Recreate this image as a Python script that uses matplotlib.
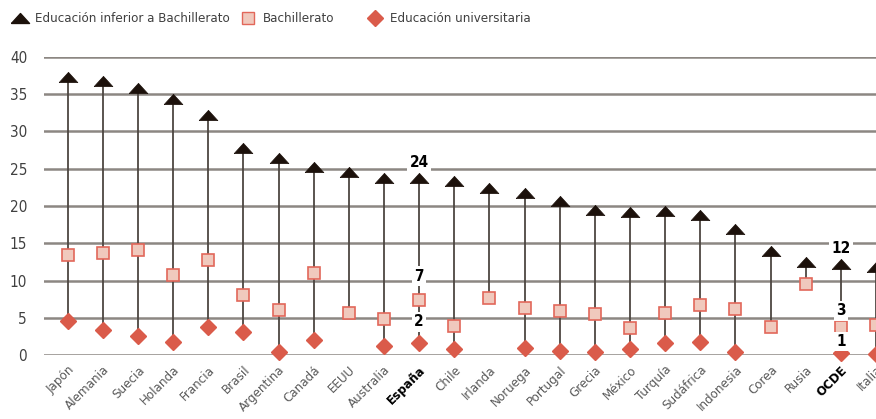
import numpy as np
import matplotlib
matplotlib.use("Agg")
import matplotlib.pyplot as plt
from matplotlib.lines import Line2D

# ---------------- data ----------------
countries = ["Japón", "Alemania", "Suecia", "Holanda", "Francia", "Brasil",
             "Argentina", "Canadá", "EEUU", "Australia", "España", "Chile",
             "Irlanda", "Noruega", "Portugal", "Grecia", "México", "Turquía",
             "Sudáfrica", "Indonesia", "Corea", "Rusia", "OCDE", "Italia"]
inferior = [37.3, 36.8, 35.8, 34.3, 32.2, 27.8, 26.5, 25.3, 24.5, 23.8, 23.8, 23.3,
            22.4, 21.7, 20.7, 19.4, 19.2, 19.3, 18.8, 16.9, 13.9, 12.5, 12.2, 11.8]
bachillerato = [13.4, 13.7, 14.1, 10.8, 12.7, 8.0, 6.0, 11.0, 5.7, 4.9, 7.4, 3.9,
                7.7, 6.3, 5.9, 5.5, 3.6, 5.6, 6.7, 6.2, 3.75, 9.5, 3.7, 4.0]
universitaria = [4.6, 3.4, 2.55, 1.7, 3.7, 3.1, 0.45, 2.0, np.nan, 1.25, 1.65, 0.75,
                 np.nan, 1.0, 0.6, 0.45, 0.75, 1.6, 1.8, 0.35, np.nan, np.nan, 0.3, 0.2]
highlight = {"España": ("24", "7", "2"), "OCDE": ("12", "3", "1")}
legend_labels = ["Educación inferior a Bachillerato", "Bachillerato", "Educación universitaria"]
yticks = [0, 5, 10, 15, 20, 25, 30, 35, 40]

# ---------------- style ----------------
plt.rcParams["font.family"] = ["DejaVu Sans"]
plt.rcParams["font.stretch"] = "condensed"

c_tri = "#1c110b"
c_sq_face = "#f0c9bd"
c_sq_edge = "#e2675a"
c_dia = "#da5b4a"
c_grid = "#8c8782"
c_line = "#4d4641"
c_txt = "#404040"
tri_marker = [(-1.0, -0.55), (1.0, -0.55), (0.0, 0.55), (-1.0, -0.55)]

fig = plt.figure(figsize=(8.76, 4.19), dpi=100)
ax = fig.add_axes([0.050, 0.1527, 0.950, 0.7113])

x = np.arange(len(countries))
inf = np.array(inferior)
bac = np.array(bachillerato)
uni = np.array(universitaria)
low = np.fmin(bac, np.where(np.isnan(uni), np.inf, uni))

ax.vlines(x, low, inf, color=c_line, lw=1.3, zorder=2)
ax.plot(x, inf, ls="none", marker=tri_marker, ms=13.5, mfc=c_tri, mec=c_tri, mew=0.5,
        zorder=4, clip_on=False)
ax.plot(x, bac, ls="none", marker="s", ms=8.5, mfc=c_sq_face, mec=c_sq_edge, mew=1.2,
        zorder=4, clip_on=False)
ax.plot(x, uni, ls="none", marker="D", ms=8, mfc=c_dia, mec=c_dia, zorder=4, clip_on=False)

# annotations
for name, labs in highlight.items():
    i = countries.index(name)
    offs = [11, 17, 15] if name == "España" else [11, 12, 8]
    for val, lab, off in zip([inf[i], bac[i], uni[i]], labs, offs):
        ax.annotate(lab, (x[i], val), xytext=(0, off), textcoords="offset points",
                    ha="center", va="center", fontsize=11, fontweight="bold", color="black",
                    bbox=dict(boxstyle="square,pad=0.15", fc="white", ec="none"), zorder=5)

ax.set_ylim(0, 40)
ax.set_xlim(-0.68, 22.91)
ax.set_yticks(yticks)
ax.yaxis.grid(True, color=c_grid, lw=1.8)
ax.set_axisbelow(True)
for s in ax.spines.values():
    s.set_visible(False)
ax.tick_params(axis="both", length=0, colors=c_txt, labelsize=11)
ax.tick_params(axis="y", pad=12)
ax.tick_params(axis="x", pad=6)
ax.set_xticks(x)
ax.set_xticklabels(countries, rotation=45, ha="right", rotation_mode="anchor", fontsize=9.5)
for lbl in ax.get_xticklabels():
    if lbl.get_text() in highlight:
        lbl.set_fontweight("bold")
        lbl.set_color("black")
    else:
        lbl.set_color("#595959")

# legend
items = [(0.023, tri_marker, c_tri, c_tri, 13), (0.283, "s", c_sq_face, c_sq_edge, 8),
         (0.428, "D", c_dia, c_dia, 8)]
for (xf, m, fc, ec, ms), lab in zip(items, legend_labels):
    fig.add_artist(Line2D([xf], [0.957], marker=m, ms=ms, mfc=fc, mec=ec, ls="none",
                          transform=fig.transFigure))
    fig.text(xf + 0.017, 0.957, lab, ha="left", va="center", fontsize=9.5, color=c_txt)

fig.savefig("out.png", dpi=100)
